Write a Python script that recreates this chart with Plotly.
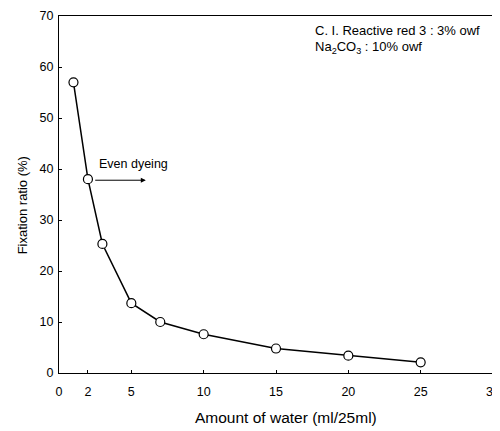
import plotly.graph_objects as go

water = [1, 2, 3, 5, 7, 10, 15, 20, 25]
fixation = [57, 38, 25.3, 13.7, 10.0, 7.6, 4.8, 3.4, 2.1]
x_ticks = [0, 2, 5, 10, 15, 20, 25, 30]
y_ticks = [0, 10, 20, 30, 40, 50, 60, 70]

font = "Liberation Sans, Arial, sans-serif"

fig = go.Figure()
fig.add_trace(go.Scatter(
    x=water, y=fixation, mode="lines+markers",
    line=dict(color="black", width=1.5),
    marker=dict(symbol="circle", size=9, color="white",
                line=dict(color="black", width=1.2)),
    showlegend=False,
))

fig.add_annotation(x=6.0, y=37.8, ax=2.4, ay=37.8, xref="x", yref="y",
                   axref="x", ayref="y", text="", showarrow=True,
                   arrowhead=2, arrowsize=1, arrowwidth=1, arrowcolor="black")
fig.add_annotation(x=2.6, y=41.0, xref="x", yref="y", text="Even dyeing",
                   showarrow=False, xanchor="left",
                   font=dict(size=12.5, color="black", family=font))
fig.add_annotation(x=0.585, y=0.958, xref="paper", yref="paper",
                   text="C. I. Reactive red 3 : 3% owf", showarrow=False,
                   xanchor="left", yanchor="middle",
                   font=dict(size=13, color="black", family=font))
fig.add_annotation(x=0.585, y=0.912, xref="paper", yref="paper",
                   text="Na<sub>2</sub>CO<sub>3</sub> : 10% owf", showarrow=False,
                   xanchor="left", yanchor="middle",
                   font=dict(size=13, color="black", family=font))
# axis titles
fig.add_annotation(x=0.523, y=-0.126, xref="paper", yref="paper",
                   text="Amount of water (ml/25ml)", showarrow=False,
                   xanchor="center", yanchor="middle",
                   font=dict(size=15.5, color="black", family=font))
fig.add_annotation(x=-0.085, y=0.47, xref="paper", yref="paper",
                   text="Fixation ratio (%)", showarrow=False, textangle=-90,
                   xanchor="center", yanchor="middle",
                   font=dict(size=13, color="black", family=font))

fig.update_layout(
    width=500, height=431,
    margin=dict(l=51, r=15, t=8, b=66),
    paper_bgcolor="white", plot_bgcolor="white",
    font=dict(family=font, size=12.5, color="black"),
)
fig.update_xaxes(
    range=[0, 30], tickvals=x_ticks, ticktext=[str(v) for v in x_ticks],
    showgrid=False, zeroline=False, showline=True, linecolor="black",
    linewidth=1, mirror=True, ticks="inside", ticklen=3, tickcolor="black",
    ticklabelstandoff=7, automargin=False,
)
fig.update_yaxes(
    range=[0, 70], tickvals=y_ticks,
    showgrid=False, zeroline=False, showline=True, linecolor="black",
    linewidth=1, mirror=True, ticks="inside", ticklen=3, tickcolor="black",
    ticklabelstandoff=2, automargin=False,
)

fig.write_html("out.html")
